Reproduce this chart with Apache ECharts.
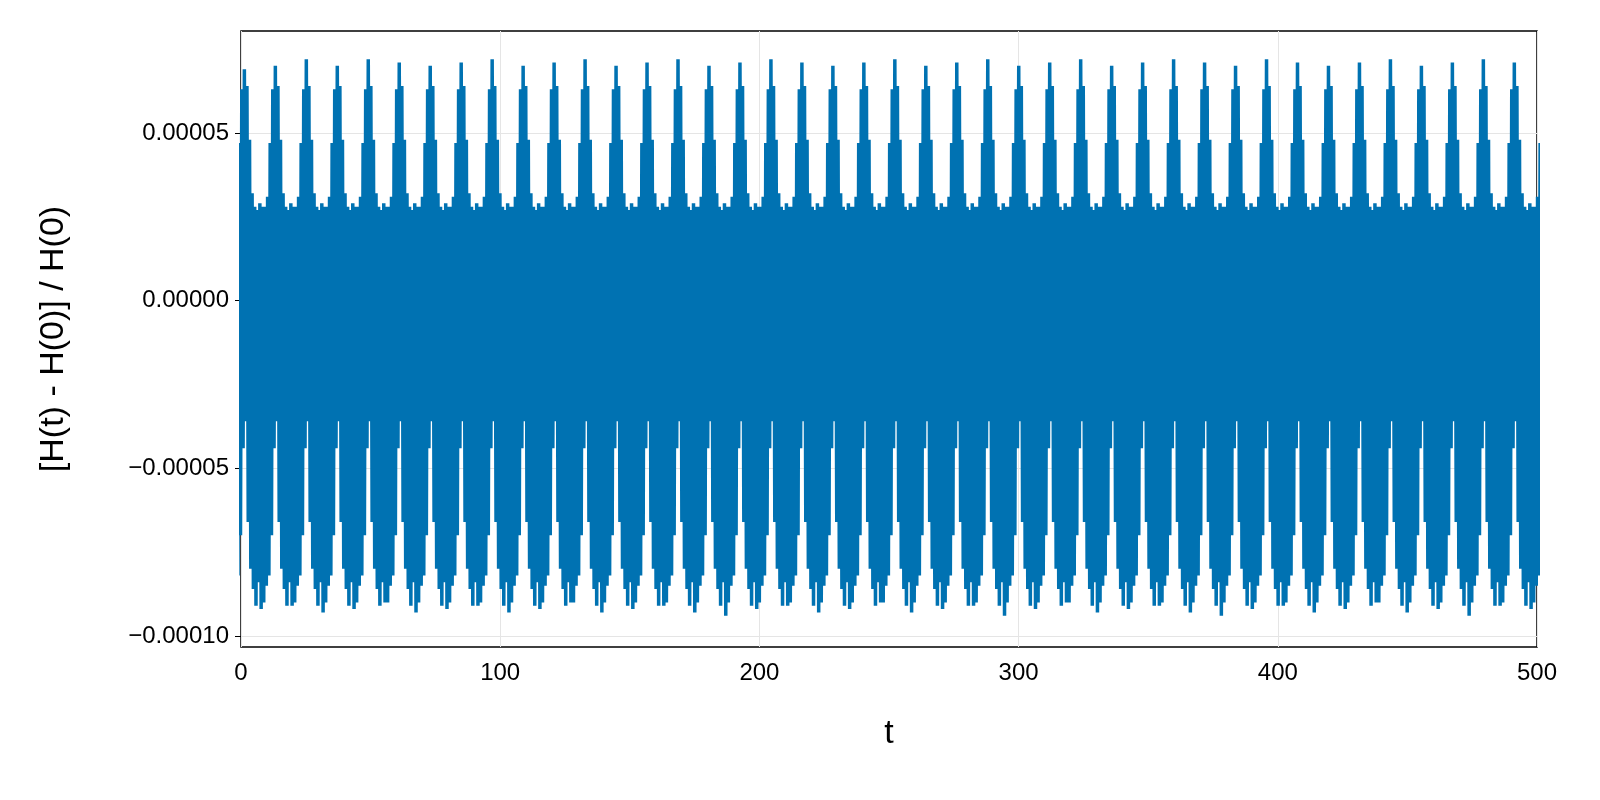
<!DOCTYPE html>
<html style="height: 100%">
<head>
  <meta charset="utf-8">
  <script src="https://cdn.jsdelivr.net/npm/echarts@6/dist/echarts.min.js"></script>
</head>
<body style="height: 100%; margin: 0; background: #fff; overflow: hidden">
  <div id="container" style="width: 100%; height: 100%"></div>
  <script type="text/javascript">
    // one oscillation cycle (units of 1e-5)
    var hiShape = [7.1, 6.4, 4.8, 3.2, 2.8, 2.7, 2.9, 2.8, 2.8, 3.1, 4.7, 6.3];
    var loShape = [-3.6, -6.6, -8.0, -8.6, -9.1, -8.4, -9.2, -9.0, -8.5, -8.2, -7.0, -4.4];
    // peak heights of each cycle (1e-5)
    var peaks = [7.1, 6.9, 7.0, 7.2, 7.0, 7.2, 7.1, 7.0, 7.1, 7.2, 7.0, 7.1,
                 7.2, 7.0, 7.1, 7.2, 7.0, 7.1, 7.2, 7.1, 7.0, 7.1, 7.2, 7.0,
                 7.1, 7.2, 7.0, 7.1, 7.2, 7.0, 7.1, 7.2, 7.1, 7.0, 7.2, 7.1,
                 7.0, 7.1, 7.2, 7.0, 7.1, 7.2, 7.1];
    // deepest trough of each cycle (1e-5)
    var troughs = [-9.3, -9.2, -9.1, -9.3, -9.2, -9.0, -9.3, -9.2, -9.1, -9.3, -9.2, -9.0,
                   -9.3, -9.2, -9.1, -9.3, -9.4, -9.2, -9.1, -9.3, -9.2, -9.0, -9.3, -9.2,
                   -9.1, -9.4, -9.2, -9.0, -9.3, -9.2, -9.1, -9.3, -9.4, -9.2, -9.1, -9.3,
                   -9.2, -9.0, -9.3, -9.2, -9.4, -9.1, -9.2];
    var period = 11.95;
    var start = 1.3 - period;
    var yTicks = [-0.0001, -0.00005, 0, 0.00005];
    var xTicks = [0, 100, 200, 300, 400, 500];

    var data = [];
    for (var c = 0; c < peaks.length + 1; c++) {
      var pk = peaks[c % peaks.length], tr = troughs[c % troughs.length];
      for (var k = 0; k < 12; k++) {
        var hi = k === 0 ? pk : hiShape[k];
        var lo = loShape[k] === -9.2 ? tr : loShape[k];
        var t0 = start + c * period + k * period / 12;
        data.push([t0, hi * 1e-5]);
        data.push([t0 + period / 24, lo * 1e-5]);
      }
    }

    var chart = echarts.init(document.getElementById('container'), null, { renderer: 'canvas' });
    var font = 'Liberation Sans';
    chart.setOption({
      animation: false,
      grid: { left: 241, right: 63, top: 31, bottom: 153, show: true, borderColor: '#000', borderWidth: 1.5, backgroundColor: 'transparent' },
      xAxis: {
        type: 'value', min: 0, max: 500,
        name: 't', nameLocation: 'middle', nameGap: 70,
        nameTextStyle: { fontSize: 34, fontFamily: font, color: '#000' },
        axisLine: { show: false },
        axisTick: { show: true, length: 6, lineStyle: { color: '#000' }, customValues: xTicks },
        axisLabel: { fontSize: 24, fontFamily: font, color: '#000', margin: 14, customValues: xTicks },
        splitLine: { show: true, lineStyle: { color: '#e5e5e5' } }
      },
      yAxis: {
        type: 'value', min: -0.0001033, max: 0.0000804,
        name: '[H(t) - H(0)] / H(0)', nameLocation: 'middle', nameGap: 170,
        nameTextStyle: { fontSize: 34, fontFamily: font, color: '#000' },
        axisLine: { show: false },
        axisTick: { show: true, length: 6, lineStyle: { color: '#000' }, customValues: yTicks },
        axisLabel: {
          fontSize: 24, fontFamily: font, color: '#000', margin: 12, customValues: yTicks,
          formatter: function (v) { return (v < 0 ? '\u2212' : '') + Math.abs(v).toFixed(5); }
        },
        splitLine: { show: true, lineStyle: { color: '#e5e5e5' } }
      },
      series: [{
        type: 'line', data: data, showSymbol: false, clip: true,
        lineStyle: { color: '#0072b2', width: 3.5 }
      }]
    });
  </script>
</body>
</html>
